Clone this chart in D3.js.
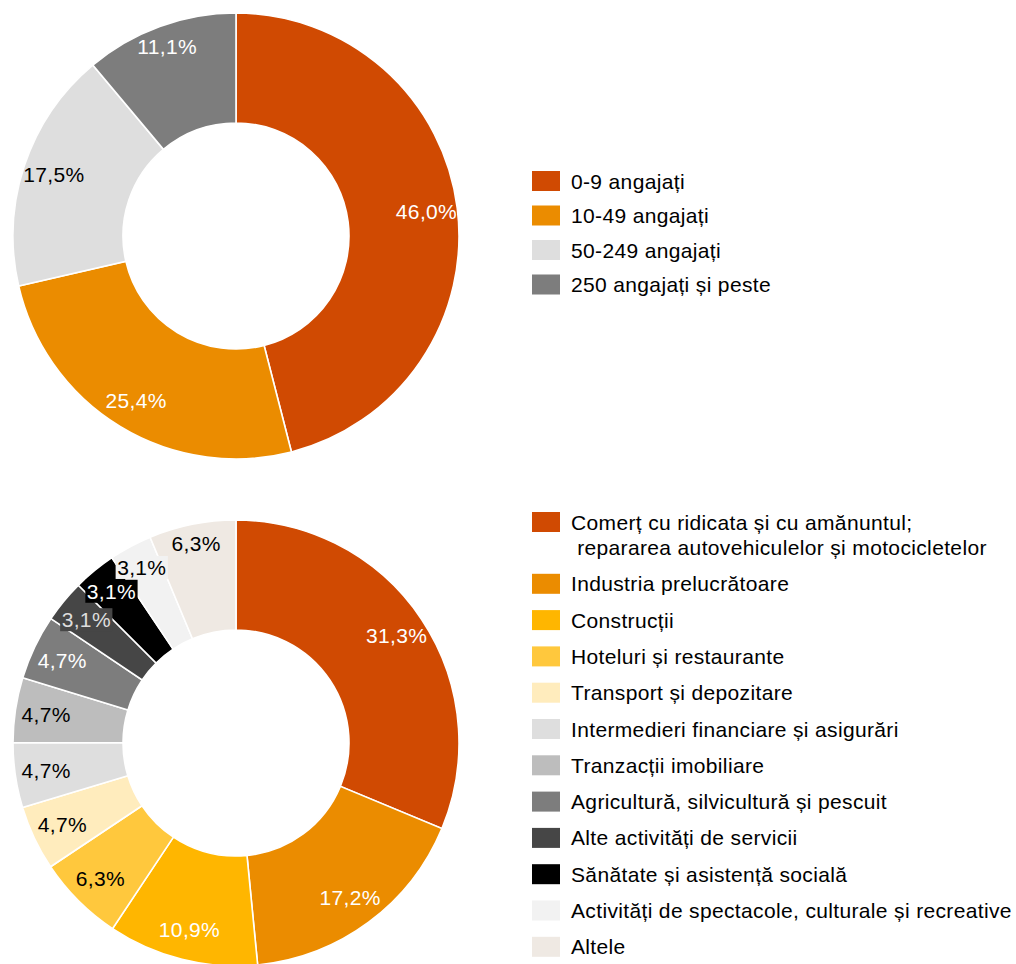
<!DOCTYPE html>
<html><head><meta charset="utf-8">
<script src="https://cdn.jsdelivr.net/npm/d3@7"></script>
<style>
html,body{margin:0;padding:0;background:#fff;}
svg text{font-family:"Liberation Sans",Arial,sans-serif;letter-spacing:0.35px;}
</style></head>
<body><svg id="c" width="1016" height="964"></svg>
<script>
// Chart 1: by company size
const sizeCategories = ["0-9 angajați","10-49 angajați","50-249 angajați","250 angajați și peste"];
const sizeValues = [46.0, 25.4, 17.5, 11.1];
const sizeColors = ["#D04A02","#EB8C00","#DEDEDE","#7D7D7D"];
const sizeLabelColors = ["#fff","#fff","#000","#fff"];

// Chart 2: by sector
const sectorCategories = [
  "Comerț cu ridicata și cu amănuntul;\n repararea autovehiculelor și motocicletelor",
  "Industria prelucrătoare",
  "Construcții",
  "Hoteluri și restaurante",
  "Transport și depozitare",
  "Intermedieri financiare și asigurări",
  "Tranzacții imobiliare",
  "Agricultură, silvicultură și pescuit",
  "Alte activități de servicii",
  "Sănătate și asistență socială",
  "Activități de spectacole, culturale și recreative",
  "Altele"
];
const sectorValues = [31.3, 17.2, 10.9, 6.3, 4.7, 4.7, 4.7, 4.7, 3.1, 3.1, 3.1, 6.3];
const sectorColors = ["#D04A02","#EB8C00","#FFB600","#FFC83D","#FFECBD","#DEDEDE","#BDBDBD","#7D7D7D","#464646","#000000","#F2F2F2","#EFE9E3"];
const sectorLabelColors = ["#fff","#fff","#fff","#000","#000","#000","#000","#fff","#ddd","#fff","#000","#000"];

const fmt = v => v.toFixed(1).replace(".", ",") + "%";
const svg = d3.select("#c");
const FS = 21;

function donut(cx, cy, values, colors, labelColors, boxSmall) {
  const g = svg.append("g").attr("transform", `translate(${cx},${cy})`);
  const pie = d3.pie().sort(null).value(d => d)(values);
  const arc = d3.arc().innerRadius(113).outerRadius(223);
  g.selectAll("path.s").data(pie).join("path")
    .attr("d", arc)
    .attr("fill", (d, i) => colors[i])
    .attr("stroke", "#fff").attr("stroke-width", 1.6);
  const lg = g.append("g");
  pie.forEach((d, i) => {
    const a = (d.startAngle + d.endAngle) / 2;
    const lr = 192 + 12 * Math.pow(Math.max(0, Math.cos(a)), 4);
    const x = lr * Math.sin(a), y = -lr * Math.cos(a);
    const t = lg.append("text").attr("x", x).attr("y", y)
      .attr("text-anchor", "middle").attr("dominant-baseline", "central")
      .attr("font-size", FS).attr("fill", labelColors[i]).text(fmt(values[i]));
    if (boxSmall && values[i] < 4) {
      const b = t.node().getBBox();
      lg.insert("rect", () => t.node())
        .attr("x", b.x - 1.5).attr("y", b.y).attr("width", b.width + 3).attr("height", b.height)
        .attr("fill", colors[i]);
    }
  });
}

function legend(x, y0, step, cats, colors) {
  const g = svg.append("g");
  let y = y0;
  cats.forEach((c, i) => {
    const lines = c.split("\n");
    g.append("rect").attr("x", x).attr("y", y - 10).attr("width", 28).attr("height", 20).attr("fill", colors[i]);
    lines.forEach((ln, k) => {
      g.append("text").attr("x", x + 39).attr("y", y + k * 25.5)
        .attr("dominant-baseline", "central").attr("font-size", FS).attr("fill", "#000")
        .attr("xml:space", "preserve").style("white-space", "pre").text(ln);
    });
    y += step + (lines.length - 1) * 25.5;
  });
}

donut(236, 236, sizeValues, sizeColors, sizeLabelColors, false);
legend(532, 181, 34.5, sizeCategories, sizeColors);

donut(236, 743, sectorValues, sectorColors, sectorLabelColors, true);
legend(532, 522, 36.3, sectorCategories, sectorColors);
</script></body></html>
